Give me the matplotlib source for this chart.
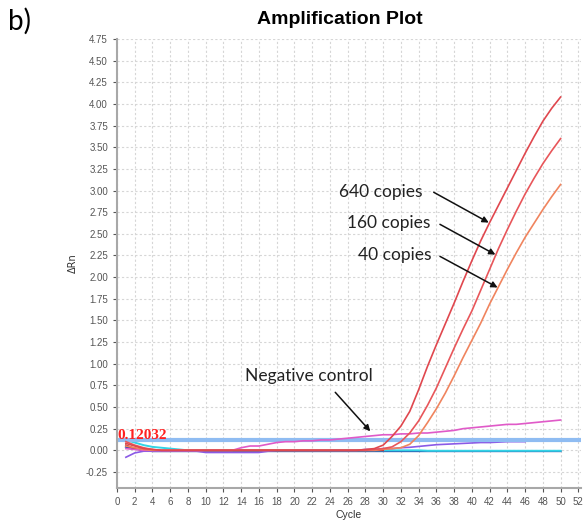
import matplotlib.pyplot as plt

cycles = list(range(1, 51))

# amplification curves (delta Rn per cycle)
copies_640 = [0.08, 0.05, 0.02, 0.01, 0.0, 0.0, 0.0, 0.0, 0.0, 0.0,
              0.0, 0.0, 0.0, 0.0, 0.0, 0.0, 0.0, 0.0, 0.0, 0.0,
              0.0, 0.0, 0.0, 0.0, 0.0, 0.0, 0.0, 0.01, 0.02, 0.06,
              0.16, 0.28, 0.45, 0.70, 0.97, 1.22, 1.46, 1.70, 1.95, 2.19,
              2.42, 2.63, 2.83, 3.03, 3.23, 3.43, 3.62, 3.80, 3.95, 4.08]
copies_160 = [0.10, 0.06, 0.03, 0.01, 0.0, 0.0, 0.0, 0.0, 0.0, 0.0,
              0.0, 0.0, 0.0, 0.0, 0.0, 0.0, 0.0, 0.0, 0.0, 0.0,
              0.0, 0.0, 0.0, 0.0, 0.0, 0.0, 0.0, 0.0, 0.01, 0.02,
              0.04, 0.10, 0.20, 0.34, 0.52, 0.72, 0.95, 1.18, 1.40, 1.61,
              1.85, 2.09, 2.33, 2.55, 2.76, 2.96, 3.14, 3.31, 3.46, 3.60]
copies_40 = [0.05, 0.03, 0.01, 0.0, 0.0, 0.0, 0.0, 0.0, 0.0, 0.0,
             0.0, 0.0, 0.0, 0.0, 0.0, 0.0, 0.0, 0.0, 0.0, 0.0,
             0.0, 0.0, 0.0, 0.0, 0.0, 0.0, 0.0, 0.0, 0.0, 0.01,
             0.02, 0.03, 0.07, 0.17, 0.32, 0.48, 0.66, 0.86, 1.07, 1.27,
             1.47, 1.69, 1.89, 2.09, 2.28, 2.46, 2.62, 2.78, 2.93, 3.07]
negative = [0.02, 0.01, 0.0, 0.0, 0.0, 0.0, 0.0, 0.0, 0.0, 0.0,
            0.0, 0.0, 0.0, 0.03, 0.05, 0.05, 0.07, 0.09, 0.10, 0.10,
            0.11, 0.11, 0.12, 0.12, 0.13, 0.14, 0.15, 0.16, 0.17, 0.18,
            0.18, 0.19, 0.19, 0.20, 0.20, 0.21, 0.22, 0.23, 0.25, 0.26,
            0.27, 0.28, 0.29, 0.30, 0.30, 0.31, 0.32, 0.33, 0.34, 0.35]

# flat baseline wells
purple_cycles = list(range(1, 47))
purple = [-0.08, -0.03, -0.01, -0.01, -0.01, -0.01, -0.01, -0.01, -0.01, -0.025,
          -0.025, -0.025, -0.025, -0.025, -0.025, -0.025, -0.01, 0.0, 0.0, 0.0,
          0.0, 0.0, 0.0, 0.0, 0.0, 0.0, 0.0, 0.01, 0.01, 0.02,
          0.02, 0.03, 0.035, 0.045, 0.055, 0.065, 0.07, 0.075, 0.08, 0.085,
          0.09, 0.09, 0.095, 0.10, 0.10, 0.10]
cyan = [0.12, 0.09, 0.06, 0.04, 0.03, 0.02, 0.01, 0.0, 0.0, 0.0,
        0.0, 0.0, 0.0, 0.0, 0.0, 0.0, 0.0, 0.0, 0.0, 0.0,
        0.0, 0.0, 0.0, 0.0, 0.0, 0.0, 0.0, 0.0, 0.0, 0.0,
        0.0, 0.0, 0.0, 0.0, -0.005, -0.005, -0.005, -0.005, -0.005, -0.005,
        -0.005, -0.005, -0.005, -0.005, -0.005, -0.005, -0.005, -0.005, -0.005, -0.005]
dark_blue = [0.04, 0.02, 0.0, -0.01, -0.01, -0.01, -0.01, -0.01, -0.01, -0.01,
             -0.01, -0.01, -0.01, -0.01, -0.01, -0.01, -0.01, -0.01, -0.01, -0.01,
             -0.01, -0.01, -0.01, -0.01, -0.01, -0.01, -0.01, -0.01, -0.01, -0.01,
             -0.01, -0.01, -0.01, -0.01, -0.01, -0.01, -0.01, -0.01, -0.01, -0.01,
             -0.01, -0.01, -0.01, -0.01, -0.01, -0.01, -0.01, -0.01, -0.01, -0.01]
dark_red = [0.06, 0.02, 0.0, -0.01, -0.01, -0.01, 0.0, 0.0, 0.0, 0.0,
            0.0, 0.0, 0.0, 0.0, 0.0, 0.0, 0.0, 0.0, 0.0, 0.0,
            0.0, 0.0, 0.0, 0.0, 0.0, 0.0, 0.0, 0.0, 0.0, 0.0]

threshold = 0.12032

x_ticks = list(range(0, 53, 2))
y_ticks = [-0.25, 0.0, 0.25, 0.5, 0.75, 1.0, 1.25, 1.5, 1.75, 2.0, 2.25, 2.5,
           2.75, 3.0, 3.25, 3.5, 3.75, 4.0, 4.25, 4.5, 4.75]

# callouts: text, text anchor (right/center), arrow start, arrow tip
callouts = [('640 copies', (34.4, 2.98), (35.7, 2.98), (41.9, 2.63)),
            ('160 copies', (35.3, 2.62), (36.4, 2.61), (42.65, 2.26)),
            ('40 copies', (35.5, 2.25), (36.4, 2.24), (42.9, 1.88)),
            ('Negative control', (21.6, 0.855), (24.6, 0.67), (28.55, 0.22))]

fig = plt.figure(figsize=(5.84, 5.21), dpi=100)
ax = fig.add_axes([117 / 584, 33 / 521, 464 / 584, 449 / 521])

ax.plot(cycles, dark_blue, color='#2a55b0', lw=1.4)
ax.plot(cycles, cyan, color='#33d4e6', lw=1.4)
ax.plot(cycles[:30], dark_red, color='#b02030', lw=1.2)
ax.plot(purple_cycles, purple, color='#8a5ae6', lw=1.2)
ax.axhline(threshold, color='#8fbcf2', lw=3)
ax.plot(cycles, negative, color='#e05ac8', lw=1.2)
ax.plot(cycles, copies_40, color='#f0845e', lw=1.2)
ax.plot(cycles, copies_160, color='#e8565a', lw=1.2)
ax.plot(cycles, copies_640, color='#e0474e', lw=1.2)

ax.text(0.0, threshold + 0.005, '%.5f' % threshold, color='#ff2020',
        fontsize=11, fontweight='bold', family='Liberation Serif')

ax.set_xlim(0, 52.3)
ax.set_ylim(-0.435, 4.75)
ax.set_xticks(x_ticks)
ax.set_yticks(y_ticks)
ax.set_yticklabels(['%.2f' % v for v in y_ticks])
ax.tick_params(labelsize=7, colors='#555555', length=3, width=0.8)
for lab in ax.get_xticklabels() + ax.get_yticklabels():
    lab.set_family('Liberation Sans')
ax.grid(True, color='#d6d6d6', linestyle=(0, (2, 2)), lw=0.8)
ax.set_axisbelow(True)
for side in ['top', 'right']:
    ax.spines[side].set_visible(False)
for side in ['left', 'bottom']:
    ax.spines[side].set_color('#a8a8a8')
    ax.spines[side].set_linewidth(1.5)

ax.set_xlabel('Cycle', fontsize=7.5, family='Liberation Sans', color='#333333', labelpad=2)
ax.set_ylabel('ΔRn', fontsize=7, family='DejaVu Sans', color='#333333', labelpad=6)
fig.text(340 / 584, 1 - 20 / 521, 'Amplification Plot', fontsize=14, fontweight='bold',
         family='Liberation Sans', ha='center', va='center')
fig.text(8 / 584, 1 - 21 / 521, 'b)', fontsize=20, family='Lato', va='center')

arrow = dict(arrowstyle='-|>', color='#111111', lw=1.1, mutation_scale=9,
             shrinkA=0, shrinkB=0)
for text, pos, start, tip in callouts:
    ax.text(pos[0], pos[1], text, fontsize=12.5, family='Lato', color='#222222',
            ha='right' if 'copies' in text else 'center', va='center')
    ax.annotate('', xy=tip, xytext=start, arrowprops=arrow)

fig.savefig('out.png', dpi=100)
